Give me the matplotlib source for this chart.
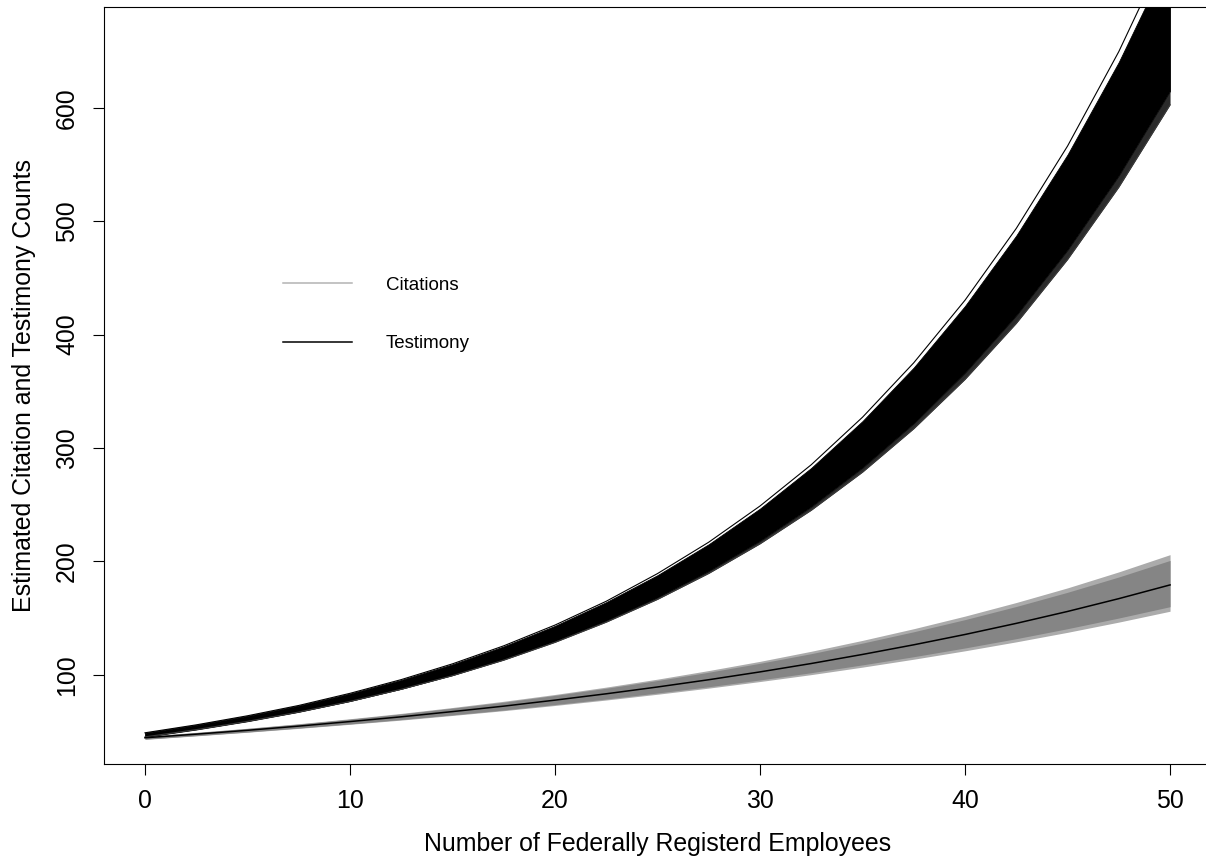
#libraries
import matplotlib
matplotlib.use('Agg')
import matplotlib.pyplot as plt
from matplotlib.lines import Line2D

plt.rcParams['font.family'] = ['Liberation Sans', 'DejaVu Sans']

#number of federally registered employees where the predictions were taken
employees = [0, 2.5, 5, 7.5, 10, 12.5, 15, 17.5, 20, 22.5, 25,
             27.5, 30, 32.5, 35, 37.5, 40, 42.5, 45, 47.5, 50]

#testimony simulations: dense band plus the outermost draws
testimony_low = [45.2, 51.7, 59.0, 67.3, 76.8, 87.6, 99.8, 113.7, 129.6, 147.7, 168.2,
                 191.5, 218.1, 248.3, 282.7, 321.8, 366.4, 417.0, 474.7, 540.3, 614.9]
testimony_high = [48.8, 55.8, 63.7, 72.8, 83.4, 95.4, 109.2, 125.0, 143.1, 164.0, 187.8,
                  215.1, 246.5, 282.4, 323.7, 370.9, 425.2, 487.3, 558.7, 640.3, 734.1]
testimony_max = [48.8, 55.8, 63.8, 72.9, 83.6, 95.7, 109.6, 125.5, 143.8, 164.8, 189.2,
                 216.9, 248.8, 285.2, 327.1, 375.1, 430.3, 493.6, 566.2, 649.5, 745.3]
testimony_min = [45.2, 51.6, 58.9, 67.1, 76.5, 87.2, 99.2, 112.9, 128.6, 146.4, 166.5,
                 189.4, 215.5, 245.1, 278.7, 317.0, 360.5, 409.9, 466.2, 530.0, 602.6]

#citation simulations: outer spread, dense band and the point estimate
citations_outer_low = [43.0, 46.1, 49.3, 52.7, 56.3, 60.0, 64.1, 68.3, 72.9, 77.7, 82.8,
                       88.2, 94.0, 100.1, 106.7, 113.7, 121.1, 129.0, 137.4, 146.4, 156.0]
citations_outer_high = [45.8, 49.2, 52.8, 56.8, 61.2, 65.9, 71.1, 76.6, 82.6, 89.1, 96.1,
                        103.7, 111.8, 120.7, 130.3, 140.6, 151.7, 163.7, 176.6, 190.7, 205.9]
citations_low = [43.2, 46.3, 49.5, 53.0, 56.6, 60.5, 64.6, 68.9, 73.7, 78.6, 83.9,
                 89.4, 95.4, 101.8, 108.7, 115.9, 123.6, 131.8, 140.6, 150.0, 160.0]
citations_high = [45.7, 49.0, 52.6, 56.5, 60.8, 65.4, 70.5, 75.8, 81.8, 88.1, 94.9,
                  102.2, 110.1, 118.6, 127.9, 137.9, 148.6, 160.2, 172.7, 186.2, 200.8]
citations_mean = [44.4, 47.6, 51.0, 54.7, 58.7, 62.9, 67.5, 72.3, 77.6, 83.2, 89.2,
                  95.6, 102.5, 109.9, 117.9, 126.4, 135.5, 145.3, 155.8, 167.1, 179.2]

xticks = [0, 10, 20, 30, 40, 50]
yticks = [100, 200, 300, 400, 500, 600]

fig = plt.figure(figsize=(12.06, 8.56), dpi=100)
ax = fig.add_axes([0.0862, 0.1075, 0.918, 0.8843])

#citations in gray
ax.fill_between(employees, citations_outer_low, citations_outer_high, color='#ababab', lw=0)
ax.fill_between(employees, citations_low, citations_high, color='#858585', lw=0)

#testimony in black, lowest draws a bit lighter
ax.fill_between(employees, testimony_min, testimony_low, color='#2b2b2b', lw=0)
ax.fill_between(employees, testimony_low, testimony_high, color='black', lw=0.6)
ax.plot(employees, testimony_max, color='black', lw=0.8)
ax.plot(employees, testimony_min, color='#3a3a3a', lw=0.8)

ax.plot(employees, citations_mean, color='black', lw=1.1)

ax.set_xlim(-2, 52)
ax.set_ylim(21.3, 688.8)
ax.set_xticks(xticks)
ax.set_yticks(yticks)
ax.set_xticklabels([str(t) for t in xticks])
ax.set_yticklabels([str(t) for t in yticks], rotation=90, va='center', ha='right')
ax.tick_params(length=8, width=0.8, labelsize=17.9, pad=10)

for s in ax.spines.values():
    s.set_linewidth(0.8)
    s.set_color('black')
ax.spines['right'].set_visible(False)

ax.set_xlabel('Number of Federally Registerd Employees', fontsize=17.9, labelpad=14)
ax.set_ylabel('Estimated Citation and Testimony Counts', fontsize=17.9, labelpad=14)

#legend without a box
handles = [Line2D([], [], color='#b3b3b3', lw=1.1), Line2D([], [], color='black', lw=1.1)]
ax.legend(handles, ['Citations', 'Testimony'], frameon=False, fontsize=13.5,
          handlelength=3.7, handletextpad=1.8, labelspacing=2.2,
          borderpad=0, borderaxespad=0, loc='center left',
          bbox_to_anchor=(283 / 1206, 1 - 314.5 / 856), bbox_transform=fig.transFigure)

plt.savefig('out.png', dpi=100)
